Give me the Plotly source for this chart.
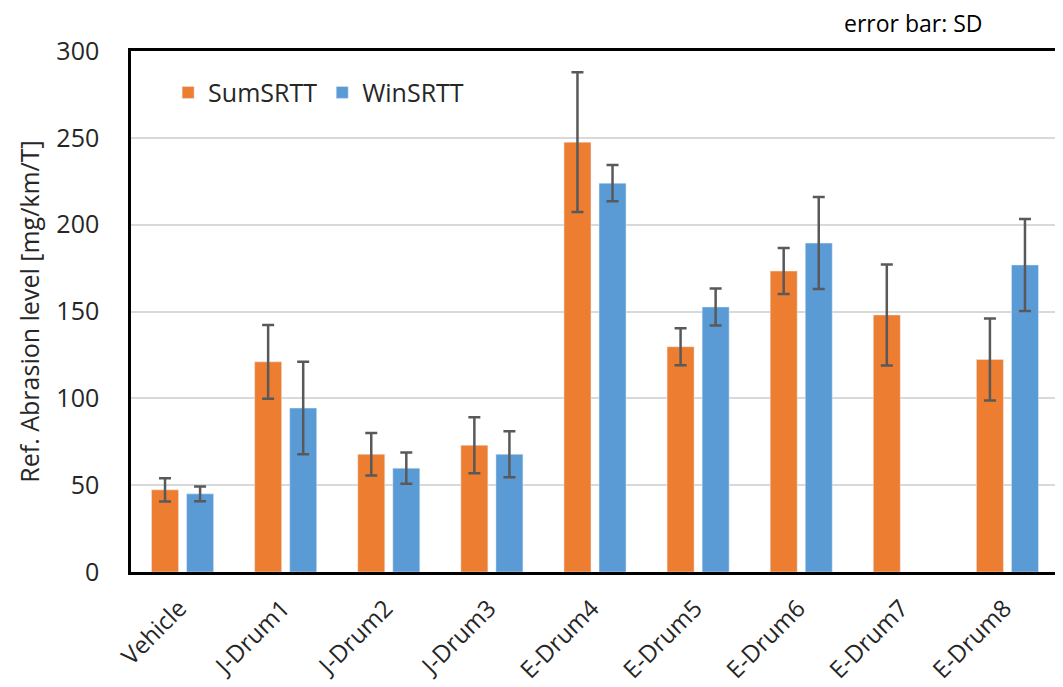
import plotly.graph_objects as go

# Categorias e valores
categorias = ['Vehicle', 'J-Drum1', 'J-Drum2', 'J-Drum3', 'E-Drum4',
              'E-Drum5', 'E-Drum6', 'E-Drum7', 'E-Drum8']
sum_srtt = [47.3, 121.0, 67.8, 73.0, 247.5, 129.7, 173.3, 148.0, 122.4]
sum_sd = [6.7, 21.2, 12.2, 16.1, 40.2, 10.7, 13.2, 29.1, 23.6]
win_srtt = [45.0, 94.4, 59.8, 67.8, 223.9, 152.6, 189.4, None, 176.8]
win_sd = [4.2, 26.6, 9.0, 13.3, 10.4, 10.7, 26.5, None, 26.5]

fonte = "Open Sans, Noto Sans, sans-serif"
cor_erro = '#595959'
tam = 25

fig = go.Figure()
fig.add_trace(go.Bar(
    name='SumSRTT',
    x=categorias,
    y=sum_srtt,
    marker_color='#ED7D31',
    error_y=dict(type='data', array=sum_sd, color=cor_erro, thickness=2.5, width=6)
))
fig.add_trace(go.Bar(
    name='WinSRTT',
    x=categorias,
    y=win_srtt,
    marker_color='#5B9BD5',
    error_y=dict(type='data', array=win_sd, color=cor_erro, thickness=2.5, width=6)
))

# body da página tem margem de 8px: figura compensada para caber na janela
fig.update_layout(
    width=1055,
    height=679,
    barmode='group',
    bargap=0.32,
    bargroupgap=0.23,
    paper_bgcolor='white',
    plot_bgcolor='white',
    font=dict(family=fonte, size=tam, color='#262626'),
    margin=dict(l=123, r=4, t=43, b=115, autoexpand=False),
    showlegend=True,
    legend=dict(
        orientation='h',
        x=0.04, y=0.92,
        xanchor='left', yanchor='middle',
        font=dict(size=tam),
        bgcolor='rgba(0,0,0,0)',
        itemwidth=30
    ),
    xaxis=dict(
        tickangle=-45,
        showline=True,
        linecolor='black',
        linewidth=2.5,
        mirror=True,
        ticks='',
        ticklabelstandoff=10,
        ticklabelshift=-3,
        tickfont=dict(size=24)
    ),
    yaxis=dict(
        range=[0, 300],
        dtick=50,
        showgrid=True,
        gridcolor='#D9D9D9',
        gridwidth=1.5,
        showline=True,
        linecolor='black',
        linewidth=2.5,
        mirror=True,
        ticks='',
        zeroline=False,
        ticklabelstandoff=24,
        tickfont=dict(size=tam),
        title=dict(text='Ref. Abrasion level [mg/km/T]', font=dict(size=tam), standoff=10)
    ),
    annotations=[
        dict(
            text='error bar: SD',
            xref='paper', yref='paper',
            x=0.92, y=1.0,
            xanchor='right', yanchor='middle',
            yshift=28,
            showarrow=False,
            font=dict(size=23, color='black')
        )
    ]
)

fig.write_html("out.html")
